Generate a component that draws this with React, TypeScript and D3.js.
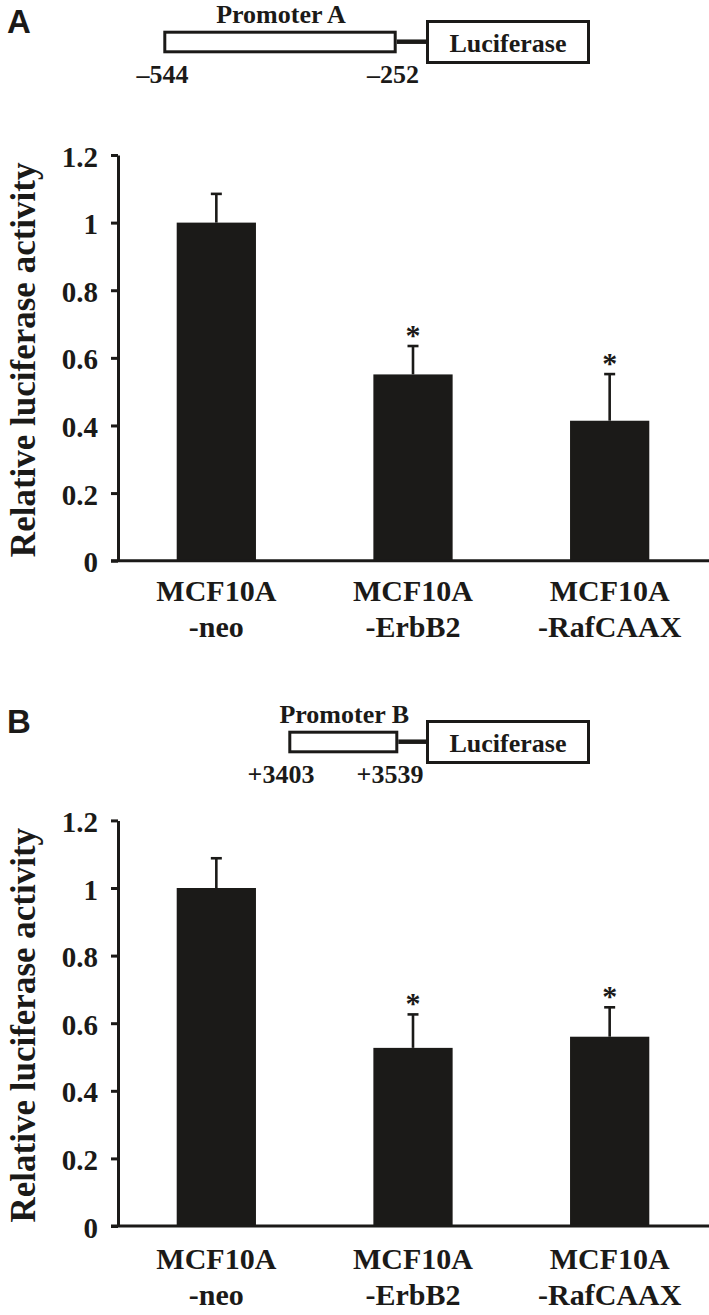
import React, { useEffect, useRef } from 'react';
import * as d3 from 'd3';

// cell lines on the x axis (two lines per label)
const categories = ['MCF10A|-neo', 'MCF10A|-ErbB2', 'MCF10A|-RafCAAX'];

// panel A: promoter A (-544 / -252)
const valuesA = [1.0, 0.551, 0.414];
const errorsA = [0.085, 0.084, 0.138];
const starsA = [false, true, true];

// panel B: promoter B (+3403 / +3539)
const valuesB = [1.0, 0.527, 0.56];
const errorsB = [0.088, 0.099, 0.087];
const starsB = [false, true, true];

const yTicks = [0, 0.2, 0.4, 0.6, 0.8, 1, 1.2];
const yLabel = 'Relative luciferase activity';

const serif = "'Liberation Serif', 'Times New Roman', serif";
const sans = "'Liberation Sans', Arial, sans-serif";
const ink = '#1b1a18';

const App = () => {
  const svgRef = useRef<SVGSVGElement>(null);

  useEffect(() => {
    document.body.style.margin = '0';
    const width = 709;
    const axisX = 118;

    const svg = d3.select(svgRef.current);
    svg.selectAll('*').remove();

    const x = d3.scaleBand()
      .domain(categories)
      .range([axisX, width - 1])
      .paddingInner(0.597)
      .paddingOuter(0.2985);

    // promoter construct sketch above each chart
    const drawConstruct = (g, letter, name, left, right, startLabel, endLabel, startX, endX) => {
      g.append('text')
        .attr('x', 7).attr('y', 33)
        .attr('font-family', sans).attr('font-weight', 'bold').attr('font-size', 33)
        .attr('fill', ink)
        .text(letter);

      g.append('text')
        .attr('x', (left + right) / 2 + 1).attr('y', 22.5)
        .attr('text-anchor', 'middle')
        .attr('font-family', serif).attr('font-weight', 'bold').attr('font-size', 26)
        .attr('fill', ink)
        .text(name);

      g.append('rect')
        .attr('x', left + 1.5).attr('y', 32.2)
        .attr('width', right - left - 3).attr('height', 19.6)
        .attr('fill', 'white').attr('stroke', ink).attr('stroke-width', 3);

      g.append('line')
        .attr('x1', right).attr('x2', 426)
        .attr('y1', 41.7).attr('y2', 41.7)
        .attr('stroke', ink).attr('stroke-width', 4.5);

      g.append('rect')
        .attr('x', 427.5).attr('y', 21.5)
        .attr('width', 161).attr('height', 41)
        .attr('fill', 'white').attr('stroke', ink).attr('stroke-width', 3);

      g.append('text')
        .attr('x', 508).attr('y', 52.3)
        .attr('text-anchor', 'middle')
        .attr('font-family', serif).attr('font-weight', 'bold').attr('font-size', 26)
        .attr('fill', ink)
        .text('Luciferase');

      [[startLabel, startX], [endLabel, endX]].forEach(([t, cx]) => {
        g.append('text')
          .attr('x', cx).attr('y', 83.3)
          .attr('text-anchor', 'middle')
          .attr('font-family', serif).attr('font-weight', 'bold').attr('font-size', 26)
          .attr('fill', ink)
          .text(t);
      });
    };

    const drawPanel = (values, errors, stars, yTop, yZero, labelGap) => {
      const y = d3.scaleLinear().domain([0, 1.2]).range([yZero, yTop]);
      const g = svg.append('g');

      // bars
      g.selectAll('rect.bar')
        .data(values)
        .join('rect')
        .attr('class', 'bar')
        .attr('x', (d, i) => x(categories[i]))
        .attr('y', d => y(d))
        .attr('width', x.bandwidth())
        .attr('height', d => y(0) - y(d))
        .attr('fill', ink);

      // upper error bars
      values.forEach((v, i) => {
        const cx = x(categories[i]) + x.bandwidth() / 2;
        const top = y(v + errors[i]);
        g.append('line')
          .attr('x1', cx).attr('x2', cx)
          .attr('y1', y(v)).attr('y2', top)
          .attr('stroke', ink).attr('stroke-width', 2.6);
        g.append('line')
          .attr('x1', cx - 5.5).attr('x2', cx + 5.5)
          .attr('y1', top).attr('y2', top)
          .attr('stroke', ink).attr('stroke-width', 2.6);
        if (stars[i]) {
          g.append('text')
            .attr('x', cx).attr('y', top - 1)
            .attr('text-anchor', 'middle')
            .attr('font-family', serif).attr('font-weight', 'bold').attr('font-size', 30)
            .attr('fill', ink)
            .text('*');
        }
      });

      // y axis
      const yAxis = g.append('g')
        .attr('transform', `translate(${axisX},0)`)
        .call(d3.axisLeft(y)
          .tickValues(yTicks)
          .tickSize(7)
          .tickSizeOuter(0)
          .tickPadding(13)
          .tickFormat(d => String(+d.toFixed(1))));
      yAxis.select('.domain').attr('stroke', ink).attr('stroke-width', 3);
      yAxis.selectAll('.tick line').attr('stroke', ink).attr('stroke-width', 3);
      yAxis.selectAll('.tick text')
        .attr('fill', ink)
        .attr('dy', '0.38em')
        .attr('font-family', serif).attr('font-weight', 'bold').attr('font-size', 29);

      // x axis baseline
      g.append('line')
        .attr('x1', axisX - 7).attr('x2', width)
        .attr('y1', y(0)).attr('y2', y(0))
        .attr('stroke', ink).attr('stroke-width', 3);

      // category labels
      categories.forEach(c => {
        const [l1, l2] = c.split('|');
        const cx = x(c) + x.bandwidth() / 2;
        g.append('text')
          .attr('x', cx).attr('y', y(0) + labelGap)
          .attr('text-anchor', 'middle')
          .attr('font-family', serif).attr('font-weight', 'bold').attr('font-size', 30)
          .attr('fill', ink)
          .text(l1);
        g.append('text')
          .attr('x', cx).attr('y', y(0) + labelGap + 36)
          .attr('text-anchor', 'middle')
          .attr('font-family', serif).attr('font-weight', 'bold').attr('font-size', 30)
          .attr('fill', ink)
          .text(l2);
      });

      // y axis title
      g.append('text')
        .attr('transform', `translate(35,${(yTop + yZero) / 2 + 2}) rotate(-90)`)
        .attr('text-anchor', 'middle')
        .attr('font-family', serif).attr('font-weight', 'bold').attr('font-size', 35)
        .attr('fill', ink)
        .text(yLabel);
    };

    const gA = svg.append('g');
    drawConstruct(gA, 'A', 'Promoter A', 163.3, 396.7, '\u2013544', '\u2013252', 162.5, 393);
    drawPanel(valuesA, errorsA, starsA, 155, 560.7, 40);

    const gB = svg.append('g').attr('transform', 'translate(0,700)');
    drawConstruct(gB, 'B', 'Promoter B', 288.3, 398.3, '+3403', '+3539', 281, 390);
    drawPanel(valuesB, errorsB, starsB, 820.4, 1226, 43);
  }, []);

  return <svg ref={svgRef} width={709} height={1315} style={{ display: 'block', background: 'white' }} />;
};

export default App;
